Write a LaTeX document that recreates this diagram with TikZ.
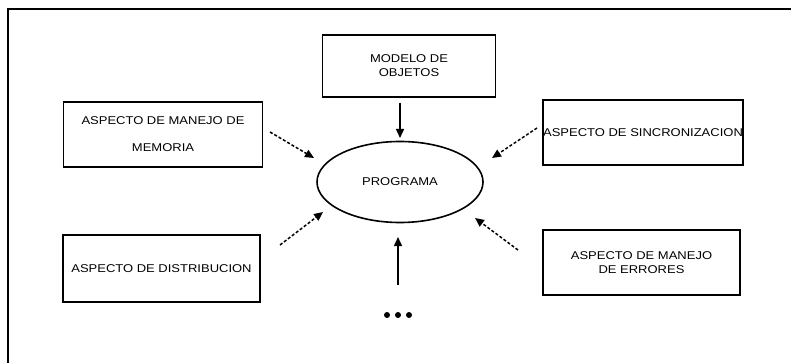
\documentclass[tikz,border=0pt]{standalone}
\usepackage{fontspec}
\setmainfont{Liberation Sans}[FakeStretch=1.15]
\usetikzlibrary{shapes.geometric,arrows.meta}
\tikzset{
  x=1pt, y=-1pt,
  box/.style={draw, line width=1.6pt, rectangle, inner sep=0pt, align=center,
              font=\fontsize{11.3}{14}\selectfont},
  prog/.style={draw, line width=1.6pt, ellipse, inner sep=0pt,
              minimum width=166pt, minimum height=81pt,
              font=\fontsize{11.3}{14}\selectfont},
  solidarrow/.style={line width=1.4pt, -{Triangle[length=9pt,width=8pt]}},
  dasharrow/.style={line width=1.5pt, dash pattern=on 3pt off 2pt,
              -{Triangle[length=9pt,width=8pt]}},
  frameline/.style={line width=1.5pt}
}
\begin{document}
\begin{tikzpicture}
\useasboundingbox (0,0) rectangle (791,363);
% frame
\coordinate (fbl) at (8,363);
\coordinate (ftl) at (8,9);
\coordinate (ftr) at (791,9);
\draw[frameline] (fbl) -- (ftl) -- (ftr);

% nodes
\node[prog] (programa) at (400,182) {PROGRAMA};
\node[box, minimum width=173pt, minimum height=62pt] (modelo) at (409,66)
  {MODELO DE\\OBJETOS};
\node[box, minimum width=199pt, minimum height=65pt] (memoria) at (163,134.5)
  {ASPECTO DE MANEJO DE\\[13pt]MEMORIA};
\node[box, minimum width=198pt, minimum height=65pt] (sincro) at (643,132.5)
  {ASPECTO DE SINCRONIZACION};
\node[box, minimum width=197pt, minimum height=67pt] (distrib) at (161.5,268.5)
  {ASPECTO DE DISTRIBUCION};
\node[box, minimum width=197pt, minimum height=65pt] (errores) at (641.5,262.5)
  {ASPECTO DE MANEJO\\DE ERRORES};

% arrow end points
\coordinate (m1) at (400,103);  \coordinate (m2) at (400,138);
\coordinate (a1) at (270,132);  \coordinate (a2) at (314,158);
\coordinate (s1) at (537,128);  \coordinate (s2) at (492,158);
\coordinate (d1) at (280,245);  \coordinate (d2) at (323,212);
\coordinate (e1) at (518,250);  \coordinate (e2) at (475,218);
\coordinate (b1) at (398,285);  \coordinate (b2) at (398,237);

\draw[solidarrow] (m1) -- (m2);
\draw[solidarrow] (b1) -- (b2);
\draw[dasharrow] (a1) -- (a2);
\draw[dasharrow] (s1) -- (s2);
\draw[dasharrow] (d1) -- (d2);
\draw[dasharrow] (e1) -- (e2);

% dots
\fill (387,315) circle (3pt);
\fill (398,315) circle (3pt);
\fill (409,315) circle (3pt);
\end{tikzpicture}
\end{document}
